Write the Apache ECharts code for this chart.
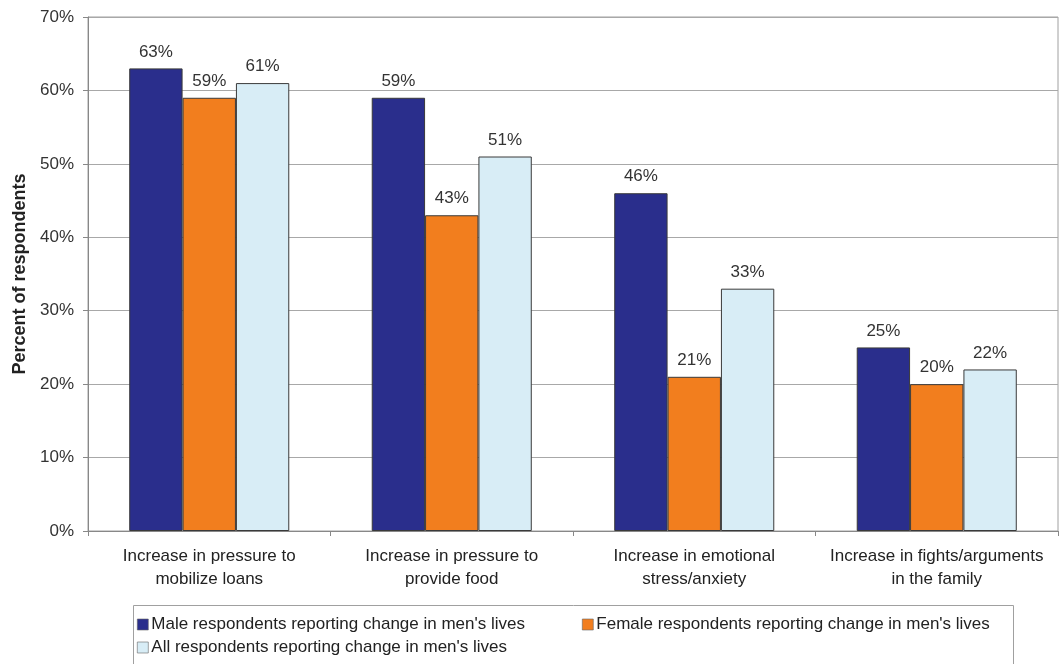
<!DOCTYPE html>
<html>
<head>
<meta charset="utf-8">
<script src="https://cdn.jsdelivr.net/npm/echarts@6/dist/echarts.min.js"></script>
<style>
  html, body { margin: 0; padding: 0; background: #fff; }
  #chart { width: 1060px; height: 664px; }
</style>
</head>
<body>
<div id="chart"></div>
<script>
// Reported changes in men's lives, by respondent group
const categories = [
  'Increase in pressure to\nmobilize loans',
  'Increase in pressure to\nprovide food',
  'Increase in emotional\nstress/anxiety',
  'Increase in fights/arguments\nin the family'
];
const seriesNames = [
  "Male respondents reporting change in men's lives",
  "Female respondents reporting change in men's lives",
  "All respondents reporting change in men's lives"
];
const maleValues = [63, 59, 46, 25];
const femaleValues = [59, 43, 21, 20];
const allValues = [61, 51, 33, 22];
const yTicks = [0, 10, 20, 30, 40, 50, 60, 70];

const colors = ['#2A2E8C', '#F27E1E', '#D8EDF6'];
const font = 'Liberation Sans, Arial, sans-serif';

function barSeries(name, data, color) {
  return {
    name: name,
    type: 'bar',
    data: data,
    barGap: '0%',
    barCategoryGap: '34%',
    itemStyle: { color: color, borderColor: '#3a3a3a', borderWidth: 1 },
    label: {
      show: true,
      position: 'top',
      distance: 8,
      formatter: '{c}%',
      fontFamily: font,
      fontSize: 17,
      color: '#333'
    }
  };
}

// one legend block per entry so the rows sit where the boxed key places them
function legendItem(name, left, top) {
  return {
    left: left, top: top,
    padding: 0,
    itemWidth: 11, itemHeight: 11,
    icon: 'rect',
    textStyle: { fontFamily: font, fontSize: 17, color: '#222', padding: [0, 0, 0, -2] },
    data: [{ name: name, itemStyle: { borderColor: '#666', borderWidth: 0.6 } }]
  };
}

const chart = echarts.init(document.getElementById('chart'));
chart.setOption({
  animation: false,
  backgroundColor: '#fff',
  grid: {
    left: 88, right: 2, top: 17, bottom: 133,
    outerBoundsMode: 'none',
    containLabel: false,
    show: true, borderColor: '#a0a0a0', borderWidth: 1
  },
  graphic: [{
    type: 'rect',
    shape: { x: 133.5, y: 605.5, width: 880, height: 70 },
    style: { fill: 'none', stroke: '#a0a0a0', lineWidth: 1 },
    z: -1
  }],
  legend: [
    legendItem(seriesNames[0], 137, 616),
    legendItem(seriesNames[1], 582, 616),
    legendItem(seriesNames[2], 137, 639)
  ],
  xAxis: {
    type: 'category',
    data: categories,
    axisLine: { lineStyle: { color: '#888' } },
    axisTick: { show: true, length: 5, lineStyle: { color: '#888' } },
    axisLabel: { interval: 0, fontFamily: font, fontSize: 17, color: '#222', margin: 14, lineHeight: 23 }
  },
  yAxis: {
    type: 'value',
    min: yTicks[0], max: yTicks[yTicks.length - 1], interval: 10,
    name: 'Percent of respondents',
    nameLocation: 'middle',
    nameGap: 59,
    nameMoveOverlap: false,
    nameTextStyle: { fontFamily: font, fontSize: 18, fontWeight: 'bold', color: '#222' },
    axisLine: { show: true, lineStyle: { color: '#888' } },
    axisTick: { show: true, length: 5, lineStyle: { color: '#888' } },
    splitLine: { lineStyle: { color: '#a8a8a8' } },
    axisLabel: { fontFamily: font, fontSize: 17, color: '#333', margin: 14, formatter: '{value}%' }
  },
  series: [
    barSeries(seriesNames[0], maleValues, colors[0]),
    barSeries(seriesNames[1], femaleValues, colors[1]),
    barSeries(seriesNames[2], allValues, colors[2])
  ]
});
</script>
</body>
</html>
